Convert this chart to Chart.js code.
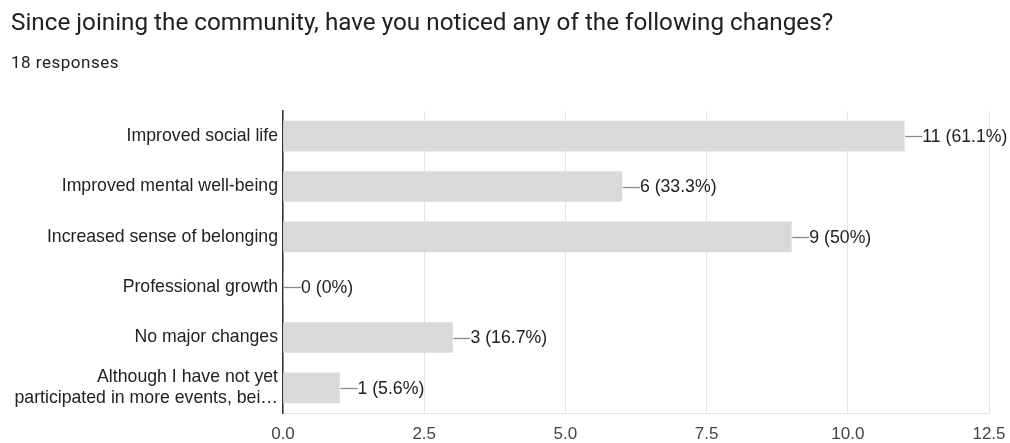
<!DOCTYPE html>
<html>
<head>
<meta charset="utf-8">
<script src="https://cdn.jsdelivr.net/npm/chart.js@4"></script>
<style>
  html, body { margin: 0; padding: 0; background: #fff; }
  #wrap { width: 1010px; height: 443px; position: relative; }
</style>
</head>
<body>
<div id="wrap"><canvas id="c" width="1010" height="443"></canvas></div>
<script>
const titleText = "Since joining the community, have you noticed any of the following changes?";
const subtitleText = "18 responses";
const categories = [
  "Improved social life",
  "Improved mental well-being",
  "Increased sense of belonging",
  "Professional growth",
  "No major changes",
  ["Although I have not yet", "participated in more events, bei\u2026"]
];
const counts = [11, 6, 9, 0, 3, 1];
const percents = ["61.1%", "33.3%", "50%", "0%", "16.7%", "5.6%"];
const xTicks = [0, 2.5, 5, 7.5, 10, 12.5];

const LABEL_FONT = "'Liberation Sans', Arial, sans-serif";

const headerPlugin = {
  id: 'header',
  afterDraw(chart) {
    const ctx = chart.ctx;
    ctx.save();
    ctx.fillStyle = '#202124';
    ctx.textAlign = 'left';
    ctx.textBaseline = 'alphabetic';
    ctx.font = "24px Roboto, sans-serif";
    let w = ctx.measureText(titleText).width;
    const tSize = 24 * 822 / w;
    ctx.font = tSize.toFixed(2) + "px Roboto, sans-serif";
    ctx.fillText(titleText, 11, 29.5);
    ctx.font = "17px Roboto, sans-serif";
    w = ctx.measureText(subtitleText).width;
    const ls = (108 - w) / subtitleText.length;
    if ('letterSpacing' in ctx) ctx.letterSpacing = ls.toFixed(2) + 'px';
    ctx.fillText(subtitleText, 11, 68);
    ctx.restore();
  }
};

const valueLabelPlugin = {
  id: 'valueLabels',
  afterDatasetsDraw(chart) {
    const ctx = chart.ctx;
    const meta = chart.getDatasetMeta(0);
    ctx.save();
    meta.data.forEach((bar, i) => {
      const x = bar.x, y = bar.y;
      ctx.strokeStyle = '#8a8a8a';
      ctx.lineWidth = 1.3;
      ctx.beginPath();
      ctx.moveTo(x + 1, Math.round(y) + 0.5);
      ctx.lineTo(x + 18, Math.round(y) + 0.5);
      ctx.stroke();
      ctx.fillStyle = '#222222';
      ctx.font = "17.7px " + LABEL_FONT;
      ctx.textAlign = 'left';
      ctx.textBaseline = 'middle';
      ctx.fillText(counts[i] + " (" + percents[i] + ")", x + 18, y + 1);
    });
    ctx.restore();
  }
};

new Chart(document.getElementById('c'), {
  type: 'bar',
  data: {
    labels: categories,
    datasets: [{
      data: counts,
      backgroundColor: '#d9d9d9',
      borderWidth: 0,
      barThickness: 30
    }]
  },
  options: {
    indexAxis: 'y',
    responsive: false,
    animation: false,
    devicePixelRatio: 1,
    layout: { padding: { top: 111, right: 21, bottom: 0, left: 0 } },
    plugins: {
      legend: { display: false },
      tooltip: { enabled: false },
      title: { display: false }
    },
    scales: {
      x: {
        min: 0,
        max: 12.5,
        afterBuildTicks(scale) { scale.ticks = xTicks.map(v => ({ value: v })); },
        afterFit(scale) { scale.height = 30; scale.paddingRight = 0; scale.paddingLeft = 0; },
        ticks: {
          padding: 11,
          color: '#444444',
          font: { family: LABEL_FONT, size: 17 },
          callback: v => Number(v).toFixed(1),
          maxRotation: 0
        },
        grid: { color: '#e3e3e3', drawTicks: false, lineWidth: 1 },
        border: { color: '#e3e3e3', width: 1 }
      },
      y: {
        afterFit(scale) { scale.width = 283; },
        ticks: {
          padding: 5,
          color: '#222222',
          font: { family: LABEL_FONT, size: 17.7, lineHeight: 1.2 }
        },
        grid: { display: false, drawTicks: false },
        border: { color: '#333333', width: 1.5 }
      }
    }
  },
  plugins: [headerPlugin, valueLabelPlugin]
});
</script>
</body>
</html>
